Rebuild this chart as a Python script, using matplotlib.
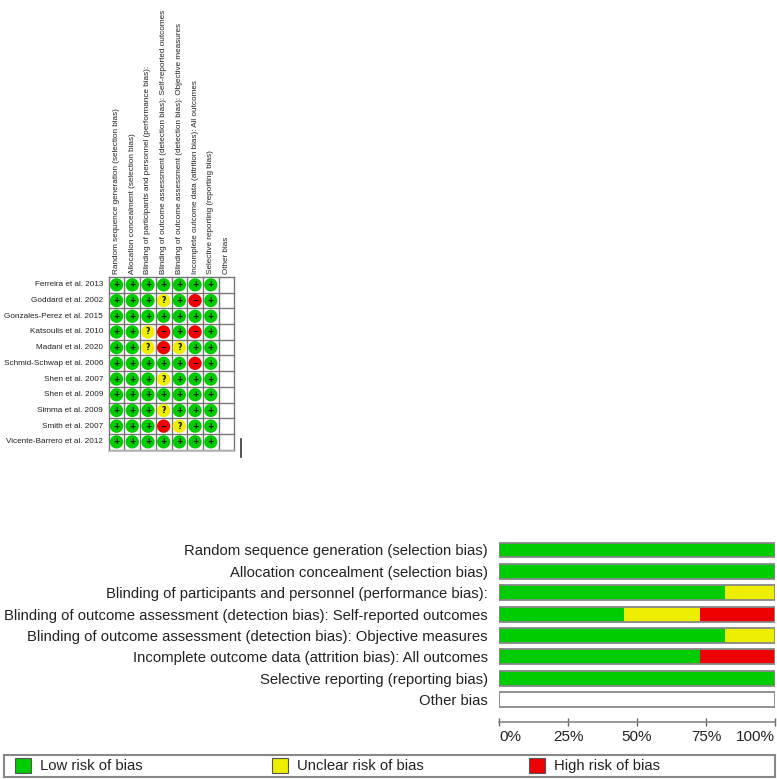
import matplotlib.pyplot as plt
import numpy as np
from matplotlib.patches import Rectangle

plt.rcParams['font.family'] = ['Liberation Sans', 'DejaVu Sans']

# Data
studies = ['Ferreira et al. 2013', 'Goddard et al. 2002', 'Gonzales-Perez et al. 2015',
           'Katsoulis et al. 2010', 'Madani et al. 2020', 'Schmid-Schwap et al. 2006',
           'Shen et al. 2007', 'Shen et al. 2009', 'Simma et al. 2009',
           'Smith et al. 2007', 'Vicente-Barrero et al. 2012']
domains = ['Random sequence generation (selection bias)',
           'Allocation concealment (selection bias)',
           'Blinding of participants and personnel (performance bias):',
           'Blinding of outcome assessment (detection bias): Self-reported outcomes',
           'Blinding of outcome assessment (detection bias): Objective measures',
           'Incomplete outcome data (attrition bias): All outcomes',
           'Selective reporting (reporting bias)',
           'Other bias']
# '+' low, '?' unclear, '-' high, '' not assessed
ratings = [
    ['+', '+', '+', '+', '+', '+', '+', ''],
    ['+', '+', '+', '?', '+', '-', '+', ''],
    ['+', '+', '+', '+', '+', '+', '+', ''],
    ['+', '+', '?', '-', '+', '-', '+', ''],
    ['+', '+', '?', '-', '?', '+', '+', ''],
    ['+', '+', '+', '+', '+', '-', '+', ''],
    ['+', '+', '+', '?', '+', '+', '+', ''],
    ['+', '+', '+', '+', '+', '+', '+', ''],
    ['+', '+', '+', '?', '+', '+', '+', ''],
    ['+', '+', '+', '-', '?', '+', '+', ''],
    ['+', '+', '+', '+', '+', '+', '+', ''],
]
levels = ['+', '?', '-']
level_names = ['Low risk of bias', 'Unclear risk of bias', 'High risk of bias']
colors = {'+': '#00cc00', '?': '#eeee00', '-': '#ee0000'}

W, H = 777, 779
fig = plt.figure(figsize=(W / 100, H / 100), dpi=100)


def fig_rect(x0, y0, x1, y1):
    # pixel box (top-left origin) -> figure fraction
    return [x0 / W, 1 - y1 / H, (x1 - x0) / W, (y1 - y0) / H]


# ===== Risk of bias summary grid =====
n_s, n_d = len(studies), len(domains)
ax1 = fig.add_axes(fig_rect(108.7, 277, 234.3, 449.7))
ax1.set_xlim(0, n_d)
ax1.set_ylim(n_s, 0)
ax1.axis('off')

for k in range(n_d + 1):
    ax1.plot([k, k], [0, n_s], color='#777777', lw=1.0, clip_on=False)
for k in range(n_s + 1):
    ax1.plot([0, n_d], [k, k], color='#777777', lw=1.0, clip_on=False)
ax1.plot([0, n_d], [n_s + 0.06, n_s + 0.06], color='#bbbbbb', lw=1.2, clip_on=False)

for i, row in enumerate(ratings):
    for j, r in enumerate(row):
        if not r:
            continue
        ax1.scatter(j + 0.5, i + 0.5, s=92, color=colors[r], edgecolors='none', zorder=3)
        sym = {'+': '+', '?': '?', '-': '−'}[r]
        ax1.text(j + 0.5, i + 0.5, sym, ha='center', va='center', fontsize=5.5,
                 fontweight='bold', color='black', zorder=4, family='DejaVu Sans')

for i, s in enumerate(studies):
    ax1.text(-0.36, i + 0.5, s, ha='right', va='center', fontsize=5.9, color='#222222')
for j, d in enumerate(domains):
    ax1.text(j + 0.5, -0.2, d, ha='left', va='center', rotation=90, fontsize=5.9,
             color='#222222', rotation_mode='anchor')

ax1.plot([8.41, 8.41], [10.3, 11.46], color='#333333', lw=1.2, clip_on=False)

# ===== Risk of bias graph =====
pct = {lv: [] for lv in levels}
for j in range(n_d):
    col = [ratings[i][j] for i in range(n_s)]
    for lv in levels:
        pct[lv].append(100.0 * col.count(lv) / n_s)

ax2 = fig.add_axes(fig_rect(499, 539.3, 775, 722))
y = np.arange(n_d)
left = np.zeros(n_d)
for lv in levels:
    vals = np.array(pct[lv])
    ax2.barh(y, vals, left=left, height=0.7, color=colors[lv], edgecolor='none', zorder=2)
    left += vals
ax2.barh(y, 100, height=0.7, color='none', edgecolor='#888888', lw=1.3, zorder=3)

ax2.set_xlim(0, 100)
ax2.set_ylim(n_d - 1 + 1.05, -0.5)
ax2.set_yticks(y)
ax2.set_yticklabels(domains, fontsize=10.7, color='#222222')
ax2.tick_params(axis='y', length=0, pad=8)
ax2.set_xticks([0, 25, 50, 75, 100])
ax2.set_xticklabels(['0%', '25%', '50%', '75%', '100%'], fontsize=11, color='#222222')
ax2.tick_params(axis='x', direction='inout', length=6, width=1, color='#666666', pad=3)
for sp in ['top', 'right', 'left']:
    ax2.spines[sp].set_visible(False)
ax2.spines['bottom'].set_color('#888888')
ax2.spines['bottom'].set_linewidth(1.2)
xl = ax2.get_xticklabels()
xl[0].set_horizontalalignment('left')
xl[-1].set_horizontalalignment('right')

# ===== Legend (three equal-width slots in a framed box) =====
ax3 = fig.add_axes(fig_rect(4, 755, 775, 777))
ax3.set_xlim(0, 3)
ax3.set_ylim(0, 1)
ax3.set_xticks([])
ax3.set_yticks([])
for sp in ax3.spines.values():
    sp.set_color('#888888')
    sp.set_linewidth(1.5)
for k, (lv, name) in enumerate(zip(levels, level_names)):
    ax3.add_patch(Rectangle((k + 0.043, 0.2), 0.062, 0.66, facecolor=colors[lv],
                            edgecolor='#555555', lw=0.8))
    ax3.text(k + 0.14, 0.5, name, ha='left', va='center', fontsize=10.7, color='#222222')

fig.savefig('out.png', dpi=100)
